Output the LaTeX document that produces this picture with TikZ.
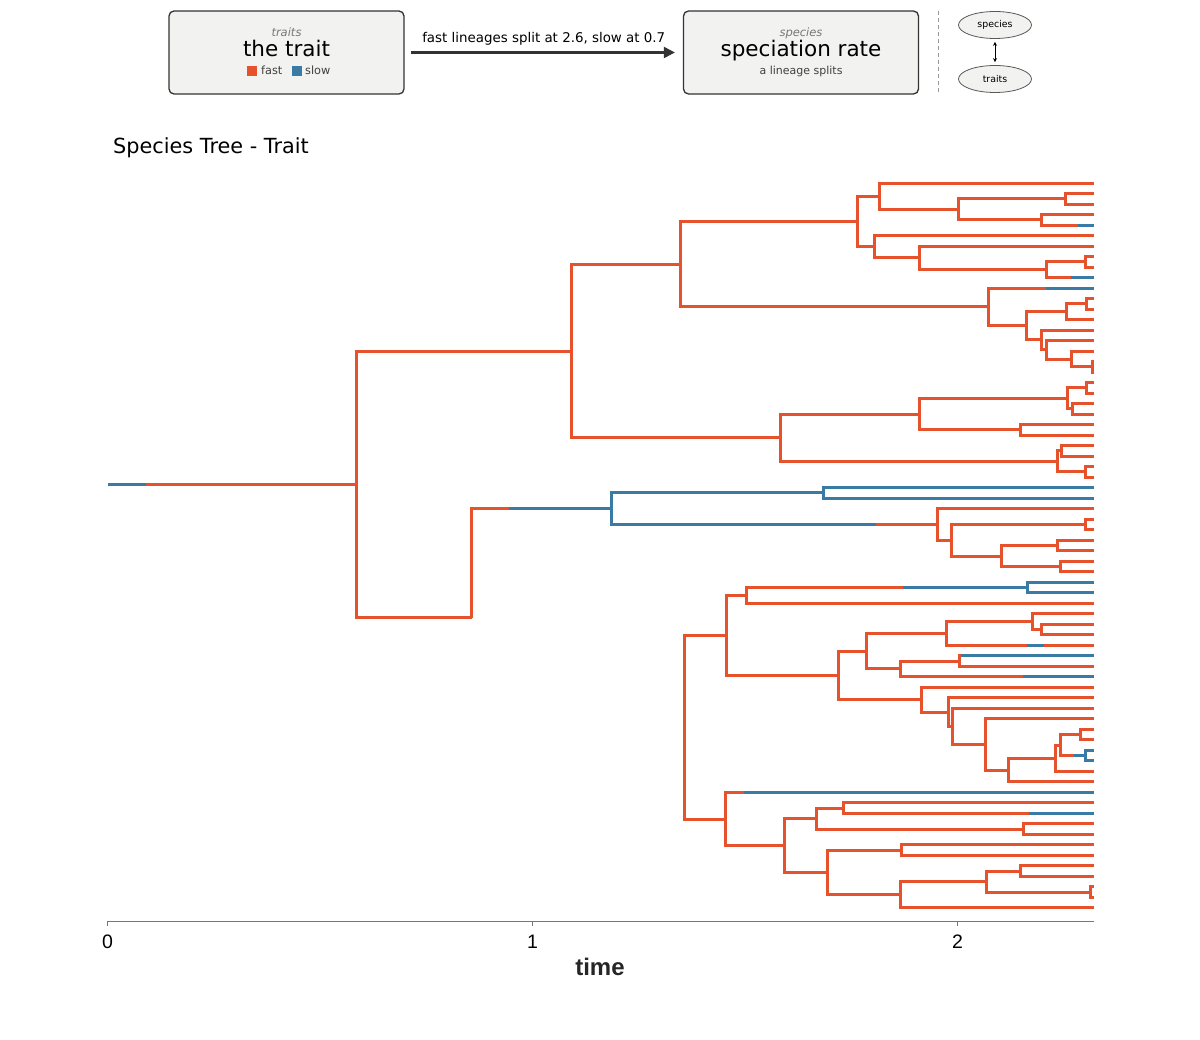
\documentclass[tikz,border=0pt]{standalone}
\usepackage{fontspec}
\setmainfont{DejaVu Sans}
\newfontfamily\axisfont{Liberation Sans}
\usetikzlibrary{arrows.meta,shapes.geometric}
\definecolor{fastc}{HTML}{E6522C}
\definecolor{slowc}{HTML}{3A7BA5}
\definecolor{boxfill}{HTML}{F2F2F0}
\definecolor{boxline}{HTML}{333333}
\definecolor{subgray}{HTML}{777777}
\definecolor{axisgray}{HTML}{777777}
\tikzset{
  br/.style={line width=3pt, line join=miter},
  fastbr/.style={br, draw=fastc},
  slowbr/.style={br, draw=slowc},
  hbox/.style={draw=boxline, fill=boxfill, rounded corners=5pt, line width=1.3pt, minimum width=235pt, minimum height=83pt, inner sep=0pt},
  ebox/.style={ellipse, draw=black!65, fill=boxfill, line width=0.8pt, minimum width=73pt, minimum height=27pt, inner sep=0pt, font=\fontsize{9.4}{10}\selectfont},
}
\newcommand\treept[3]{\coordinate (#1) at ({floor(#2)+0.5},{floor(#3)+0.5});}
\begin{document}
\begin{tikzpicture}[x=1pt,y=-1pt]
\useasboundingbox (0,0) rectangle (1200,1040);
% ---------- header ----------
\node[hbox] (traitsbox) at (286.5,52.5) {};
\node[hbox] (ratebox) at (801,52.5) {};
\node[anchor=base, font=\itshape\fontsize{11.5}{12}\selectfont, text=subgray] (t1) at (286.5,36.5) {traits};
\node[anchor=base, font=\fontsize{21.5}{24}\selectfont] (t2) at (286.5,57) {the trait};
\fill[fastc] (247,66) rectangle (257,76);
\node[anchor=base west, font=\fontsize{11.3}{12}\selectfont, text=black!75, inner sep=0pt] (lf) at (261,75) {fast};
\fill[slowc] (292,66) rectangle (302,76);
\node[anchor=base west, font=\fontsize{11.3}{12}\selectfont, text=black!75, inner sep=0pt] (ls) at (305,75) {slow};
\node[anchor=base, font=\itshape\fontsize{11.5}{12}\selectfont, text=subgray] (r1) at (801,36.5) {species};
\node[anchor=base, font=\fontsize{21.5}{24}\selectfont] (r2) at (801,57) {speciation rate};
\node[anchor=base, font=\fontsize{11}{12}\selectfont, text=black!75] (r3) at (801,75) {a lineage splits};
\draw[line width=2.2pt, draw=boxline, -{Triangle[length=11pt,width=11pt]}, shorten <=6pt, shorten >=8pt] (traitsbox) -- (ratebox)
  node[midway, above=3pt, font=\fontsize{13.4}{15}\selectfont, text=black] (alab) {fast lineages split at 2.6, slow at 0.7};
\coordinate (dsA) at (938.5,11);
\coordinate (dsB) at (938.5,94);
\draw[black!40, line width=1pt, dash pattern=on 4pt off 3pt] (dsA) -- (dsB);
\node[ebox] (es) at (995,25) {species};
\node[ebox] (et) at (995,79) {traits};
\draw[{Stealth[length=4pt,width=4pt]}-{Stealth[length=4pt,width=4pt]}, line width=0.8pt, shorten <=3pt, shorten >=3pt] (es) -- (et);
% ---------- title ----------
\node[anchor=base west, font=\fontsize{20.8}{22}\selectfont, inner sep=0pt] (title) at (113,154) {Species Tree - Trait};
% ---------- axis ----------
\coordinate (ax0) at (107,921.5);
\coordinate (ax1) at (1094,921.5);
\draw[axisgray, line width=1.5pt] (ax0) -- (ax1);
\foreach \t/\xx in {0/107.5,1/532.5,2/957.5}{
  \coordinate (tk\t) at (\xx,921);
  \coordinate (tb\t) at (\xx,926);
  \draw[axisgray, line width=1.3pt] (tk\t) -- (tb\t);
  \node[anchor=base, font=\axisfont\fontsize{19.5}{20}\selectfont, inner sep=0pt] (tl\t) at (\xx,948) {\t};
}
\node[anchor=base, font=\axisfont\bfseries\fontsize{24}{26}\selectfont, text=black!85, inner sep=0pt] (xlab) at (600,975) {time};
% ---------- tree: leaves ----------
\foreach \i in {0,...,69} \coordinate (L\i) at (1094,{floor(183+10.507*\i)+0.5});
% internal nodes
\treept{a1}{1065}{198.75}
\treept{a2}{1041.7}{219.75}
\treept{a3}{958.3}{209.25}
\treept{a4}{879.3}{196.1}
\treept{a5}{1085}{261.8}
\treept{a6}{1046.7}{269.7}
\treept{a7}{919}{257.85}
\treept{a8}{874.3}{246.7}
\treept{a9}{857.7}{221.4}
\treept{b1}{1086}{303.85}
\treept{b2}{1066}{311.7}
\treept{b3}{1092.3}{366.85}
\treept{b4}{1071}{359.0}
\treept{b5}{1046.7}{349.8}
\treept{b6}{1041.7}{339.95}
\treept{b7}{1026}{325.8}
\treept{b8}{988.3}{306.95}
\treept{c1}{680.7}{264.2}
\treept{d1}{1086}{387.85}
\treept{d2}{1072}{408.9}
\treept{d3}{1067.7}{398.4}
\treept{d4}{1020}{429.95}
\treept{d5}{919}{414.2}
\treept{d6}{1061.7}{450.95}
\treept{d7}{1085}{471.95}
\treept{d8}{1057.3}{461.45}
\treept{d9}{780.7}{437.8}
\treept{c2}{571.7}{351.0}
\treept{e1}{823.3}{492.95}
\treept{e2}{1085}{524.45}
\treept{e3}{1057.3}{545.45}
\treept{e4}{1060.7}{566.55}
\treept{e5}{1001}{556.0}
\treept{e6}{951.7}{540.2}
\treept{e7}{937.7}{524.45}
\treept{e8}{611.7}{508.7}
\treept{f1}{1027.7}{587.55}
\treept{f2}{746.7}{595.4}
\treept{f3}{1041.7}{629.55}
\treept{f4}{1032.3}{621.7}
\treept{f5}{946}{633.5}
\treept{f6}{959.3}{661.05}
\treept{f7}{900}{668.9}
\treept{f8}{866}{651.2}
\treept{g1}{1080}{734.65}
\treept{g2}{1085}{755.65}
\treept{g3}{1060}{745.15}
\treept{g4}{1055}{758.3}
\treept{g5}{1008.3}{770.1}
\treept{g6}{985.7}{744.5}
\treept{g7}{952}{726.4}
\treept{g8}{948.5}{712.1}
\treept{g9}{921.7}{699.7}
\treept{f9}{838.3}{675.45}
\treept{h1}{726.7}{635.4}
\treept{i1}{843.3}{808.15}
\treept{i2}{1023.3}{829.15}
\treept{i3}{816.7}{818.65}
\treept{i4}{901.7}{850.15}
\treept{i5}{1020}{871.15}
\treept{i6}{1090.7}{892.25}
\treept{i7}{986}{881.7}
\treept{i8}{900}{894.85}
\treept{i9}{827.3}{872.5}
\treept{j1}{784}{845.6}
\treept{j2}{725}{819.0}
\treept{k1}{684.3}{727.2}
\treept{k2}{471.7}{617.95}
\treept{root}{356.7}{484.5}
% colour switch points
\treept{r0}{107}{484.5}
\treept{rs}{145}{484.5}
\treept{s4}{1077.3}{225.0}
\treept{s9}{1070}{277.6}
\treept{s10}{1045}{288.1}
\treept{se8}{508.3}{508.7}
\treept{se7}{875}{524.45}
\treept{sf1}{902.3}{587.55}
\treept{s44a}{1026.7}{645.3}
\treept{s44b}{1043.3}{645.3}
\treept{s45}{960.7}{655.8}
\treept{s47}{1022.7}{676.8}
\treept{s58}{743.3}{792.4}
\treept{s60}{1028.3}{813.4}
\treept{sg2}{1073.3}{755.65}
% fast elbows
\foreach \p/\c in {a1/L1,a1/L2,a2/L3,a3/a1,a3/a2,a4/L0,a4/a3,a5/L7,a5/L8,a6/a5,a7/L6,a7/a6,a8/L5,a8/a7,a9/a4,a9/a8,
  b1/L11,b1/L12,b2/b1,b2/L13,b3/L17,b3/L18,b4/L16,b4/b3,b5/L15,b5/b4,b6/L14,b6/b5,b7/b2,b7/b6,b8/b7,
  c1/a9,c1/b8,
  d1/L19,d1/L20,d2/L21,d2/L22,d3/d1,d3/d2,d4/L23,d4/L24,d5/d3,d5/d4,d6/L25,d6/L26,d7/L27,d7/L28,d8/d6,d8/d7,d9/d5,d9/d8,
  c2/c1,c2/d9,root/c2,root/k2,
  e2/L32,e2/L33,e3/L34,e3/L35,e4/L36,e4/L37,e5/e3,e5/e4,e6/e2,e6/e5,e7/L31,e7/e6,
  f2/L40,f3/L42,f3/L43,f4/L41,f4/f3,f5/f4,f6/L46,f7/f6,f8/f5,f8/f7,
  g1/L52,g1/L53,g3/g1,g4/g3,g4/L56,g5/g4,g5/L57,g6/L51,g6/g5,g7/L50,g7/g6,g8/L49,g8/g7,g9/L48,g9/g8,f9/f8,f9/g9,h1/f2,h1/f9,
  i1/L59,i2/L61,i2/L62,i3/i1,i3/i2,i4/L63,i4/L64,i5/L65,i5/L66,i6/L67,i6/L68,i7/i5,i7/i6,i8/i7,i8/L69,i9/i4,i9/i8,
  j1/i3,j1/i9,k1/h1,k1/j2,j2/j1,
  a2/s4,a6/s9,b8/s10,k2/se8,f2/sf1,f5/s44a,f6/s45,f7/s47,j2/s58,i1/s60,g3/sg2}
  \draw[fastbr] (\p) |- (\c);
% fast straight pieces
\foreach \p/\c in {rs/root,s44b/L44,se7/e7}
  \draw[fastbr] (\p) -- (\c);
% slow straight pieces
\foreach \p/\c in {r0/rs,s4/L4,s9/L9,s10/L10,se8/e8,sf1/f1,s44a/s44b,s45/L45,s47/L47,s58/L58,s60/L60,sg2/g2}
  \draw[slowbr] (\p) -- (\c);
% slow elbows
\foreach \p/\c in {e8/e1,e8/se7,e1/L29,e1/L30,f1/L38,f1/L39,g2/L54,g2/L55}
  \draw[slowbr] (\p) |- (\c);
\end{tikzpicture}
\end{document}
